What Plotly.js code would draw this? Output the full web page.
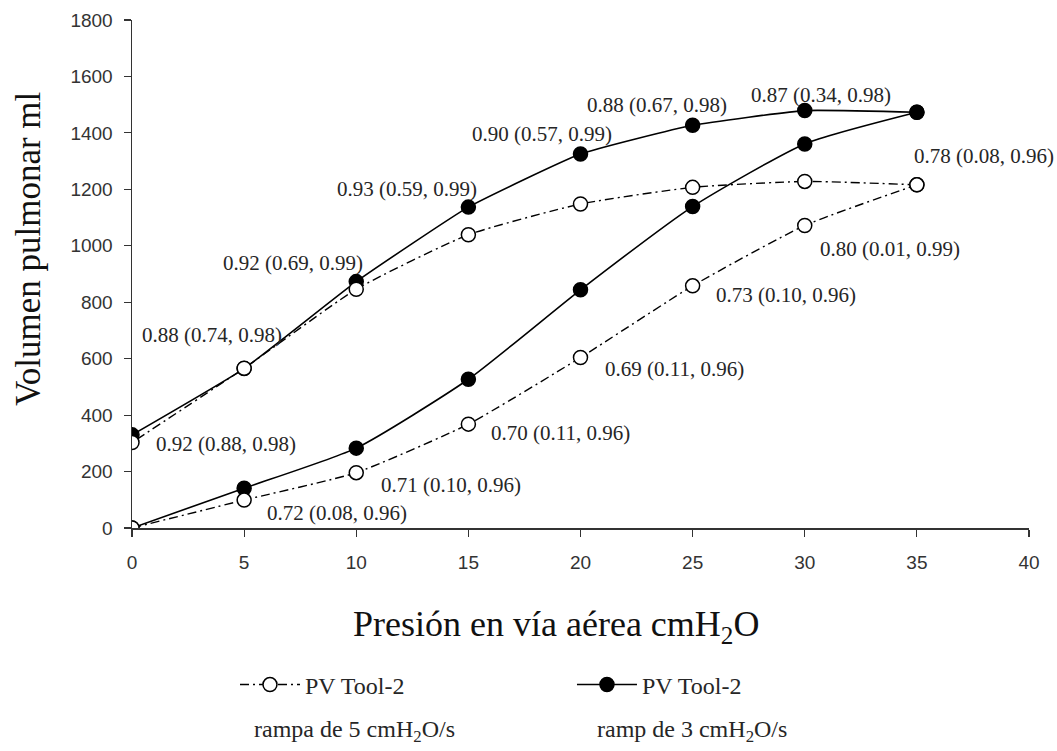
<!DOCTYPE html>
<html>
<head>
<meta charset="utf-8">
<script src="https://cdn.plot.ly/plotly-3.0.1.min.js"></script>
<style>html,body{margin:0;padding:0;background:#fff;}#chart{width:1057px;height:751px;}</style>
</head>
<body>
<div id="chart"></div>
<script>
// Pressure (cmH2O): inflation limb and deflation limb
const pressureUp   = [0, 5, 10, 15, 20, 25, 30, 35];
const pressureDown = [35, 30, 25, 20, 15, 10, 5, 0];

// Lung volume (ml), ramp 3 cmH2O/s (filled markers)
const ramp3Up   = [0, 141, 283, 527, 844, 1139, 1361, 1473];
const ramp3Down = [1473, 1479, 1427, 1325, 1137, 873, 565, 330];

// Lung volume (ml), ramp 5 cmH2O/s (open markers)
const ramp5Up   = [0, 99, 196, 368, 604, 858, 1072, 1216];
const ramp5Down = [1216, 1228, 1207, 1148, 1039, 846, 566, 303];

// Point labels: text, series and point index
const labelTexts = [
  "0.92 (0.88, 0.98)", "0.88 (0.74, 0.98)", "0.92 (0.69, 0.99)", "0.93 (0.59, 0.99)",
  "0.90 (0.57, 0.99)", "0.88 (0.67, 0.98)", "0.87 (0.34, 0.98)", "0.78 (0.08, 0.96)",
  "0.80 (0.01, 0.99)", "0.73 (0.10, 0.96)", "0.69 (0.11, 0.96)", "0.70 (0.11, 0.96)",
  "0.71 (0.10, 0.96)", "0.72 (0.08, 0.96)"
];
const labelSeries = ["r5d","r5d","r3d","r3d","r3d","r3d","r3d","r5u","r5u","r5u","r5u","r5u","r5u","r5u"];
const labelIndex  = [7, 6, 5, 4, 3, 2, 1, 7, 6, 5, 4, 3, 2, 1];

const xTickVals = [0, 5, 10, 15, 20, 25, 30, 35, 40];
const yTickVals = [0, 200, 400, 600, 800, 1000, 1200, 1400, 1600, 1800];

const legendName = "PV Tool-2";
const legendSub5 = "rampa de 5 cmH<sub>2</sub>O/s";
const legendSub3 = "ramp de 3 cmH<sub>2</sub>O/s";
const xTitle = "Presión en vía aérea cmH<sub>2</sub>O";
const yTitle = "Volumen pulmonar ml";

// ---- styling / positions (not data) ----
const labelShift = [
  [22,-2],[-104,33],[-135,19],[-133,18],[-111,20],[-108,20],[-56,16],[-5,29],
  [13,-24],[21,-9],[22,-11],[21,-9],[23,-12],[21,-13]
];
const seriesMap = {
  r3u: [pressureUp, ramp3Up], r3d: [pressureDown, ramp3Down],
  r5u: [pressureUp, ramp5Up], r5d: [pressureDown, ramp5Down]
};

const serif = "Liberation Serif, Times New Roman, serif";
const sans = "Liberation Sans, Arial, sans-serif";
const txt = "#262626";

const filledMarker = {symbol: "circle", size: 14, color: "#000", line: {color: "#000", width: 1.5}};
const openMarker = {symbol: "circle", size: 14, color: "#fff", line: {color: "#000", width: 1.5}};
const solidLineUp = {color: "#000", width: 1.6, shape: "spline", smoothing: 0.55};
const solidLineDown = {color: "#000", width: 1.6, shape: "spline", smoothing: 0.4};
const dashLine = {color: "#000", width: 1.4, shape: "spline", smoothing: 0.5, dash: "9px,4px,2px,4px"};

const traces = [
  {x: pressureUp, y: ramp3Up, mode: "lines+markers", marker: filledMarker, line: solidLineUp,
   name: legendName, legendgroup: "r3", showlegend: true},
  {x: pressureDown, y: ramp3Down, mode: "lines+markers", marker: filledMarker, line: solidLineDown,
   name: legendName, legendgroup: "r3", showlegend: false},
  {x: pressureUp, y: ramp5Up, mode: "lines+markers", marker: openMarker, line: dashLine,
   name: legendName, legendgroup: "r5", showlegend: true},
  {x: pressureDown, y: ramp5Down, mode: "lines+markers", marker: openMarker, line: dashLine,
   name: legendName, legendgroup: "r5", showlegend: false}
];

const annotations = labelTexts.map((t, i) => {
  const s = seriesMap[labelSeries[i]];
  return {
    x: s[0][labelIndex[i]], y: s[1][labelIndex[i]], xref: "x", yref: "y",
    text: t, showarrow: false, xanchor: "left", yanchor: "middle",
    xshift: labelShift[i][0], yshift: labelShift[i][1],
    font: {family: serif, size: 21, color: txt}
  };
});
annotations.push(
  {x: 0.2486, y: -0.3996, xref: "paper", yref: "paper", text: legendSub5, showarrow: false,
   xanchor: "center", yanchor: "middle", font: {family: serif, size: 24, color: txt}},
  {x: 0.6243, y: -0.3996, xref: "paper", yref: "paper", text: legendSub3, showarrow: false,
   xanchor: "center", yanchor: "middle", font: {family: serif, size: 24, color: txt}},
  {x: 0.473, y: -0.193, xref: "paper", yref: "paper", text: xTitle, showarrow: false,
   xanchor: "center", yanchor: "middle", font: {family: serif, size: 36, color: "#111"}},
  {x: -0.116, y: 0.551, xref: "paper", yref: "paper", text: yTitle, showarrow: false,
   textangle: -90, xanchor: "center", yanchor: "middle", font: {family: serif, size: 35, color: "#111"}}
);

const layout = {
  width: 1057, height: 751,
  margin: {l: 132, r: 28, t: 20, b: 223},
  paper_bgcolor: "#fff", plot_bgcolor: "#fff",
  showlegend: true,
  legend: {orientation: "h", traceorder: "reversed", x: 0.1148, xanchor: "left",
           y: -0.309, yanchor: "middle", entrywidth: 262, itemwidth: 60,
           font: {family: serif, size: 24, color: txt}, bgcolor: "rgba(0,0,0,0)"},
  xaxis: {
    range: [0, 40], tickvals: xTickVals, ticktext: xTickVals.map(String),
    showgrid: false, zeroline: false, showline: true, linecolor: "#333", linewidth: 1.5,
    ticks: "outside", ticklen: 7, tickwidth: 1.2, tickcolor: "#333", ticklabelstandoff: 10,
    tickfont: {family: sans, size: 19, color: "#333"}
  },
  yaxis: {
    range: [0, 1800], tickvals: yTickVals, ticktext: yTickVals.map(String),
    showgrid: false, zeroline: false, showline: true, linecolor: "#333", linewidth: 1.5,
    ticks: "outside", ticklen: 7, tickwidth: 1.2, tickcolor: "#333", ticklabelstandoff: 7,
    tickfont: {family: sans, size: 19, color: "#333"}
  },
  annotations: annotations
};

Plotly.newPlot("chart", traces, layout, {displayModeBar: false, staticPlot: true});
</script>
</body>
</html>
